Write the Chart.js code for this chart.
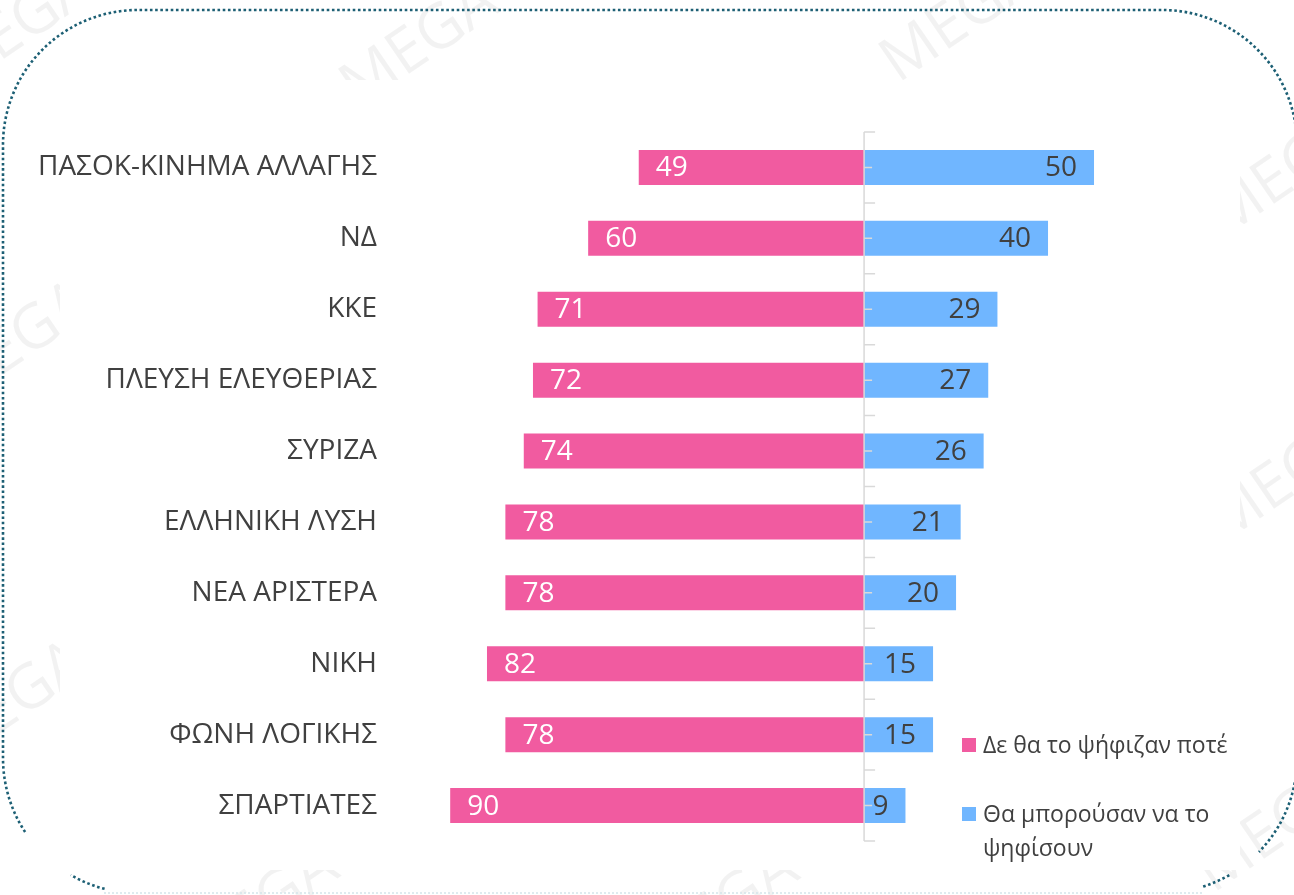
<!DOCTYPE html>
<html>
<head>
<meta charset="utf-8">
<script src="https://cdn.jsdelivr.net/npm/chart.js@4.4.1/dist/chart.umd.min.js"></script>
<style>
  html, body { margin: 0; padding: 0; background: #ffffff; }
  #wrap { position: relative; width: 1294px; height: 895px; overflow: hidden; }
  canvas { display: block; }
</style>
</head>
<body>
<div id="wrap"><canvas id="c" width="1294" height="895"></canvas></div>
<script>
// ---- data ----
const categories = [
  "ΠΑΣΟΚ-ΚΙΝΗΜΑ ΑΛΛΑΓΗΣ",
  "ΝΔ",
  "ΚΚΕ",
  "ΠΛΕΥΣΗ ΕΛΕΥΘΕΡΙΑΣ",
  "ΣΥΡΙΖΑ",
  "ΕΛΛΗΝΙΚΗ ΛΥΣΗ",
  "ΝΕΑ ΑΡΙΣΤΕΡΑ",
  "ΝΙΚΗ",
  "ΦΩΝΗ ΛΟΓΙΚΗΣ",
  "ΣΠΑΡΤΙΑΤΕΣ"
];
const neverVote = [49, 60, 71, 72, 74, 78, 78, 82, 78, 90];
const couldVote = [50, 40, 29, 27, 26, 21, 20, 15, 15, 9];
const seriesNames = ["Δε θα το ψήφιζαν ποτέ", "Θα μπορούσαν να το ψηφίσουν"];
const legendLines = [["Δε θα το ψήφιζαν ποτέ"], ["Θα μπορούσαν να το", "ψηφίσουν"]];

const PINK = "#F15BA0";
const BLUE = "#70B6FF";
const TEXT = "#404040";
const FONT = "'Open Sans', 'Noto Sans', sans-serif";

// ---- plugins ----
const framePlugin = {
  id: "frame",
  beforeDraw(chart) {
    const ctx = chart.ctx;
    ctx.save();
    ctx.fillStyle = "#ffffff";
    ctx.fillRect(0, 0, chart.width, chart.height);
    // faint watermarks
    ctx.fillStyle = "rgba(0,0,0,0.05)";
    ctx.font = "62px " + FONT;
    const marks = [[420, 45], [960, 20], [1285, 175], [1285, 480], [15, 30], [15, 345], [10, 705], [260, 910], [720, 912], [1275, 830]];
    marks.forEach(([x, y]) => {
      ctx.save();
      ctx.translate(x, y);
      ctx.rotate(-0.6);
      ctx.textAlign = "center";
      ctx.textBaseline = "middle";
      ctx.fillText("MEGA", 0, 0);
      ctx.restore();
    });
    ctx.fillStyle = "#ffffff";
    ctx.fillRect(60, 80, 1180, 790);

    // dotted rounded frame
    const L = 3, T = 10, Rr = 1297, B = 893, R = 135;
    ctx.lineWidth = 2.6;
    ctx.setLineDash([2.6, 2.6]);
    ctx.strokeStyle = "#1C5F74";
    ctx.beginPath();
    ctx.arc(L + R, B - R, R, 2.561, Math.PI, false);
    ctx.arc(L + R, T + R, R, Math.PI, 1.5 * Math.PI, false);
    ctx.arc(Rr - R, T + R, R, 1.5 * Math.PI, 2 * Math.PI, false);
    ctx.arc(Rr - R, B - R, R, 0, 0.77, false);
    ctx.stroke();
    // bottom corner pieces
    ctx.beginPath();
    ctx.arc(L + R, B - R, R, Math.PI / 2 + 0.25, 2.093, false);
    ctx.stroke();
    ctx.beginPath();
    ctx.arc(Rr - R, B - R, R, 1.049, Math.PI / 2 - 0.3, false);
    ctx.stroke();
    // faint bottom line
    ctx.strokeStyle = "#D3E5EA";
    ctx.lineWidth = 1.5;
    ctx.setLineDash([2, 2]);
    ctx.beginPath();
    ctx.moveTo(L + R - 34, B);
    ctx.lineTo(Rr - R + 40, B);
    ctx.stroke();
    ctx.restore();
  }
};

const axisPlugin = {
  id: "centerAxis",
  afterDatasetsDraw(chart) {
    const ctx = chart.ctx;
    const xs = chart.scales.x, ys = chart.scales.y;
    const x0 = xs.getPixelForValue(0);
    const n = categories.length;
    const step = (ys.bottom - ys.top) / n;
    ctx.save();
    ctx.strokeStyle = "#D9D9D9";
    ctx.lineWidth = 1.5;
    ctx.beginPath();
    ctx.moveTo(x0, ys.top);
    ctx.lineTo(x0, ys.bottom);
    for (let i = 0; i <= n; i++) {
      const y = ys.top + i * step;
      ctx.moveTo(x0, y);
      ctx.lineTo(x0 + 11, y);
    }
    for (let i = 0; i < n; i++) {
      const y = ys.getPixelForValue(i);
      ctx.moveTo(x0, y);
      ctx.lineTo(x0 + 8, y);
    }
    ctx.stroke();
    ctx.restore();
  }
};

const labelPlugin = {
  id: "barLabels",
  afterDatasetsDraw(chart) {
    const ctx = chart.ctx;
    ctx.save();
    ctx.font = "28px " + FONT;
    ctx.textBaseline = "middle";
    chart.getDatasetMeta(0).data.forEach((bar, i) => {
      ctx.fillStyle = "#ffffff";
      ctx.textAlign = "left";
      ctx.fillText(String(neverVote[i]), bar.x + 17, bar.y + 1);
    });
    chart.getDatasetMeta(1).data.forEach((bar, i) => {
      ctx.fillStyle = TEXT;
      ctx.textAlign = "right";
      ctx.fillText(String(couldVote[i]), bar.x - 17, bar.y + 1);
    });
    ctx.restore();
  }
};

const legendPlugin = {
  id: "customLegend",
  afterDraw(chart) {
    const ctx = chart.ctx;
    const colors = [PINK, BLUE];
    const boxes = [738, 807];
    ctx.save();
    ctx.font = "23px " + FONT;
    ctx.textBaseline = "middle";
    ctx.textAlign = "left";
    legendLines.forEach((lines, k) => {
      ctx.fillStyle = colors[k];
      ctx.fillRect(962, boxes[k], 14, 14);
      ctx.fillStyle = TEXT;
      lines.forEach((t, j) => {
        ctx.fillText(t, 983, boxes[k] + 8 + j * 34);
      });
    });
    ctx.restore();
  }
};

new Chart(document.getElementById("c"), {
  type: "bar",
  data: {
    labels: categories,
    datasets: [
      { label: seriesNames[0], data: neverVote.map(v => -v), backgroundColor: PINK, borderWidth: 0 },
      { label: seriesNames[1], data: couldVote, backgroundColor: BLUE, borderWidth: 0 }
    ]
  },
  options: {
    indexAxis: "y",
    responsive: false,
    animation: false,
    devicePixelRatio: 1,
    layout: { padding: { left: 0, right: 154, top: 132, bottom: 54 } },
    datasets: { bar: { categoryPercentage: 1.0, barPercentage: 0.494 } },
    plugins: { legend: { display: false }, tooltip: { enabled: false } },
    scales: {
      x: { type: "linear", min: -92, max: 60, stacked: true, display: false },
      y: {
        stacked: true,
        grid: { display: false, drawTicks: false },
        border: { display: false },
        ticks: { color: TEXT, font: { family: FONT, size: 28 }, padding: 64 },
        afterFit(scale) {
          scale.width = 441;
          scale.paddingTop = 0;
          scale.paddingBottom = 0;
        }
      }
    }
  },
  plugins: [framePlugin, axisPlugin, labelPlugin, legendPlugin]
});
</script>
</body>
</html>
